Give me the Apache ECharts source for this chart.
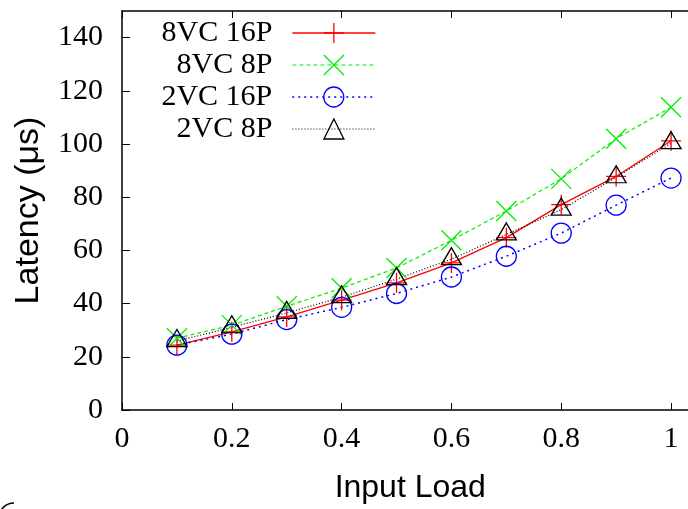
<!DOCTYPE html>
<html>
<head>
<meta charset="utf-8">
<script src="https://cdn.jsdelivr.net/npm/echarts@6/dist/echarts.min.js"></script>
<style>
  html, body { margin: 0; padding: 0; background: #fff; }
  #chart { width: 688px; height: 509px; }
</style>
</head>
<body>
<div id="chart"></div>
<script>
// input load on the x axis
const loads = [0.1, 0.2, 0.3, 0.4, 0.5, 0.6, 0.7, 0.8, 0.9, 1.0];
// latency (us) per configuration
const vc8p16 = [24.4, 29.4, 35.0, 41.3, 47.8, 55.3, 64.8, 77.2, 87.8, 101.2];
const vc8p8 = [27.0, 31.9, 39.0, 45.8, 53.4, 63.8, 74.8, 86.9, 102.0, 113.8];
const vc2p16 = [24.4, 28.5, 34.0, 38.6, 43.8, 50.0, 57.8, 66.5, 77.0, 87.2];
const vc2p8 = [25.9, 31.1, 36.5, 42.4, 49.2, 56.7, 66.0, 75.3, 87.5, 100.3];
const names = ['8VC 16P', '8VC 8P', '2VC 16P', '2VC 8P'];

const serif = 'Liberation Serif, Times New Roman, serif';
const sans = 'Liberation Sans, Arial, sans-serif';
const none = 'rgba(0,0,0,0)';

const plusSym = 'path://M5,0L5,10M0,5L10,5';
const crossSym = 'path://M0,0L10,10M10,0L0,10';
const triSym = 'path://M5,0L10,8.5L0,8.5Z';

const styles = [
  { color: '#ff0000', dash: 'solid', width: 1.3, symbol: plusSym, size: 20, fill: '#ff0000', offset: [0, 0] },
  { color: '#00ee00', dash: [4, 3], width: 1.2, symbol: crossSym, size: 20, fill: '#00ee00', offset: [0, 0] },
  { color: '#0000ff', dash: [2, 4], width: 1.5, symbol: 'circle', size: 20, fill: none, offset: [0, 0] },
  { color: '#000000', dash: [1, 2], width: 1.2, symbol: triSym, size: [20, 17], fill: none, offset: [0, -3] }
];
const values = [vc8p16, vc8p8, vc2p16, vc2p8];

const chart = echarts.init(document.getElementById('chart'));

const series = names.map((name, k) => ({
  name: name,
  type: 'line',
  data: loads.map((x, i) => [x, values[k][i]]),
  symbol: styles[k].symbol,
  symbolSize: styles[k].size,
  symbolOffset: styles[k].offset,
  showAllSymbol: true,
  lineStyle: { color: styles[k].color, width: styles[k].width, type: styles[k].dash },
  itemStyle: { color: styles[k].fill, borderColor: styles[k].color, borderWidth: 1.3 },
  emphasis: { disabled: true },
  animation: false
}));

const legends = names.map((name, k) => ({
  data: [name],
  orient: 'vertical',
  align: 'right',
  right: 312,
  top: 18 + k * 32,
  padding: 0,
  itemWidth: 83,
  itemHeight: 25,
  selectedMode: false,
  textStyle: { color: '#000', fontFamily: serif, fontSize: 30, padding: [0, 15, 0, 0] },
  lineStyle: { color: styles[k].color, width: styles[k].width, type: styles[k].dash },
  itemStyle: { color: styles[k].fill, borderColor: styles[k].color, borderWidth: 1.3 }
}));

chart.setOption({
  animation: false,
  backgroundColor: '#fff',
  grid: { left: 122, top: 11, right: -10.5, bottom: 99, outerBoundsMode: 'none' },
  legend: legends,
  xAxis: [{
    type: 'value',
    min: 0,
    max: 1.05,
    interval: 0.2,
    name: 'Input Load',
    nameLocation: 'middle',
    nameGap: 62,
    nameTextStyle: { color: '#000', fontFamily: sans, fontSize: 32 },
    axisLine: { show: true, lineStyle: { color: '#000', width: 1.5 } },
    axisTick: { inside: true, length: 7, lineStyle: { color: '#000' } },
    axisLabel: { color: '#000', fontFamily: serif, fontSize: 30, margin: 14, showMaxLabel: false },
    splitLine: { show: false }
  }, {
    type: 'value',
    position: 'top',
    min: 0,
    max: 1.05,
    interval: 0.2,
    axisLine: { show: true, lineStyle: { color: '#000', width: 1.5 } },
    axisTick: { inside: true, length: 7, lineStyle: { color: '#000' } },
    axisLabel: { show: false },
    splitLine: { show: false }
  }],
  yAxis: {
    type: 'value',
    min: 0,
    max: 150,
    interval: 20,
    name: 'Latency (μs)',
    nameLocation: 'middle',
    nameGap: 76,
    nameTextStyle: { color: '#000', fontFamily: sans, fontSize: 34 },
    axisLine: { show: true, lineStyle: { color: '#000', width: 1.5 } },
    axisTick: { inside: true, length: 8, lineStyle: { color: '#000' } },
    axisLabel: { color: '#000', fontFamily: serif, fontSize: 30, margin: 19, showMaxLabel: false },
    splitLine: { show: false }
  },
  graphic: [{
    type: 'arc',
    shape: { cx: 14, cy: 518, r: 15, startAngle: Math.PI, endAngle: Math.PI * 1.5 },
    style: { stroke: '#000', lineWidth: 1.5, fill: null },
    silent: true
  }],
  series: series
});
</script>
</body>
</html>
